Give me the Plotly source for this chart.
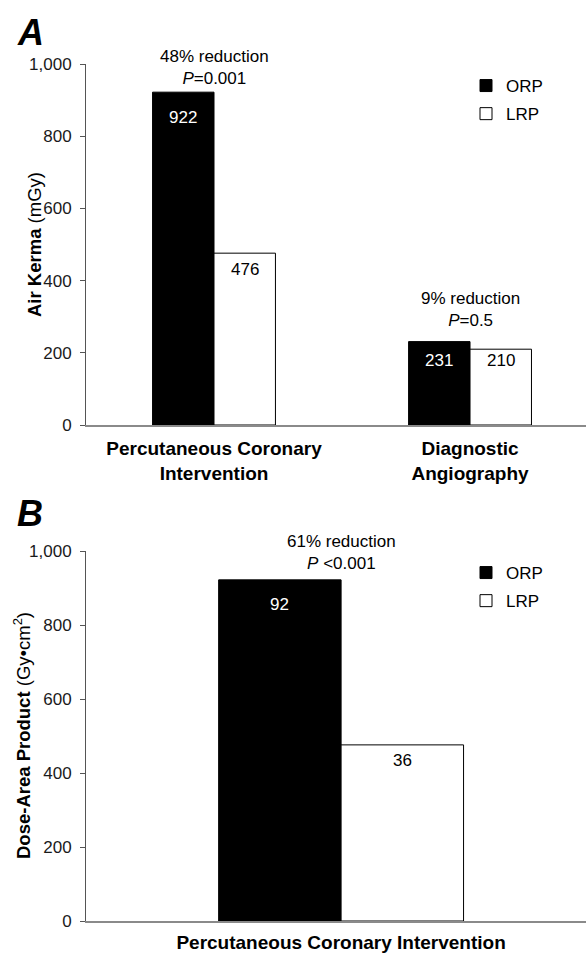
import plotly.graph_objects as go

# ---------------- data ----------------
cats_a = ["Percutaneous Coronary<br>Intervention", "Diagnostic<br>Angiography"]
orp_a = [922, 231]
lrp_a = [476, 210]
orp_a_labels = ["922", "231"]
lrp_a_labels = ["476", "210"]
notes_a = ["48% reduction", "9% reduction"]
pvals_a = ["=0.001", "=0.5"]

cats_b = ["Percutaneous Coronary Intervention"]
orp_b = [922]          # bar heights as drawn on the axis
lrp_b = [476]
orp_b_labels = ["92"]
lrp_b_labels = ["36"]
notes_b = ["61% reduction"]
pvals_b = [" <0.001"]

y_ticks = [0, 200, 400, 600, 800, 1000]
series_names = ["ORP", "LRP"]

# ---------------- style ----------------
FONT = "Liberation Sans, Arial, sans-serif"
W, H = 586, 953
BARGAP = 0.52
AX_GREY = "#555555"
XLINE = "#8a8a8a"

fig = go.Figure()

def add_panel(xa, ya, cats, orp, lrp, legend):
    fig.add_trace(go.Bar(x=cats, y=orp, name=series_names[0], xaxis=xa, yaxis=ya,
                         marker=dict(color="black", line=dict(color="black", width=1)),
                         legend=legend, legendgroup=legend + "o", hoverinfo="skip"))
    fig.add_trace(go.Bar(x=cats, y=lrp, name=series_names[1], xaxis=xa, yaxis=ya,
                         marker=dict(color="white", line=dict(color="black", width=1)),
                         legend=legend, legendgroup=legend + "l", hoverinfo="skip"))

add_panel("x", "y", cats_a, orp_a, lrp_a, "legend")
add_panel("x2", "y2", cats_b, orp_b, lrp_b, "legend2")

yA = [1 - 425 / H, 1 - 64 / H]
yB = [1 - 921 / H, 1 - 551 / H]
xdom = [86 / W, 1]

common_y = dict(range=[0, 1000], tickvals=y_ticks, tickformat=",", ticks="outside",
                ticklen=5, tickcolor=AX_GREY, tickwidth=1, showline=True,
                linecolor=AX_GREY, linewidth=1, showgrid=False, zeroline=False,
                tickfont=dict(family=FONT, size=17, color="#1a1a1a"),
                ticklabelstandoff=5, fixedrange=True)
common_x = dict(type="category", showline=True, linecolor=XLINE, linewidth=2,
                ticks="", showgrid=False, zeroline=False, layer="below traces",
                tickfont=dict(family=FONT, size=19, color="black", weight="bold"),
                fixedrange=True)

leg_common = dict(xanchor="left", yanchor="top", bgcolor="rgba(0,0,0,0)",
                  font=dict(family=FONT, size=17, color="black"),
                  tracegroupgap=3, itemwidth=30)

fig.update_layout(
    width=W, height=H, margin=dict(l=0, r=0, t=0, b=0, autoexpand=False),
    paper_bgcolor="white", plot_bgcolor="white",
    barmode="group", bargap=BARGAP, bargroupgap=0,
    font=dict(family=FONT, color="black"),
    xaxis=dict(domain=xdom, anchor="y", range=[-0.5, 1.453], ticklabelstandoff=5, **common_x),
    yaxis=dict(domain=yA, anchor="x", **common_y),
    xaxis2=dict(domain=xdom, anchor="y2", range=[-0.5, 0.48], ticklabelstandoff=3, **common_x),
    yaxis2=dict(domain=yB, anchor="x2", **common_y),
    legend=dict(x=466 / W, y=1 - 68 / H, **leg_common),
    legend2=dict(x=466 / W, y=1 - 555 / H, **leg_common),
)

ann = []
half = (1 - BARGAP) / 4  # centre offset of each bar within a group (category units)

def bar_labels(xref, yref, orp, lrp, ol, ll, o_shift, l_shift):
    for i in range(len(orp)):
        ann.append(dict(xref=xref, yref=yref, x=i - half, y=orp[i], yshift=o_shift[i],
                        text=ol[i], showarrow=False, yanchor="middle",
                        font=dict(family=FONT, size=17, color="white")))
        ann.append(dict(xref=xref, yref=yref, x=i + half, y=lrp[i], yshift=l_shift[i],
                        text=ll[i], showarrow=False, yanchor="middle",
                        font=dict(family=FONT, size=17, color="black")))

bar_labels("x", "y", orp_a, lrp_a, orp_a_labels, lrp_a_labels, [-25, -19], [-16, -11])
bar_labels("x2", "y2", orp_b, lrp_b, orp_b_labels, lrp_b_labels, [-25], [-16])

def notes(xref, yref, orp, lrp, nt, pv, shifts):
    for i in range(len(orp)):
        ann.append(dict(xref=xref, yref=yref, x=i, y=max(orp[i], lrp[i]), yshift=shifts[i],
                        yanchor="bottom", showarrow=False,
                        text=nt[i] + "<br><i>P</i>" + pv[i],
                        font=dict(family=FONT, size=17, color="black")))

notes("x", "y", orp_a, lrp_a, notes_a, pvals_a, [2, 10])
notes("x2", "y2", orp_b, lrp_b, notes_b, pvals_b, [5])

# panel letters
ann.append(dict(xref="paper", yref="paper", x=15 / W, y=1 - 10 / H, xanchor="left", yanchor="top",
                text="<b><i>A</i></b>", showarrow=False, font=dict(family=FONT, size=36, color="black")))
ann.append(dict(xref="paper", yref="paper", x=15 / W, y=1 - 491 / H, xanchor="left", yanchor="top",
                text="<b><i>B</i></b>", showarrow=False, font=dict(family=FONT, size=36, color="black")))

# y-axis titles
ann.append(dict(xref="paper", yref="paper", x=35 / W, y=1 - 245 / H, textangle=-90,
                xanchor="center", yanchor="middle", showarrow=False,
                text="<b>Air Kerma</b> (mGy)", font=dict(family=FONT, size=18.5, color="black")))
ann.append(dict(xref="paper", yref="paper", x=22 / W, y=1 - 736 / H, textangle=-90,
                xanchor="center", yanchor="middle", showarrow=False,
                text="<b>Dose-Area Product</b> (Gy•cm<sup>2</sup>)", font=dict(family=FONT, size=18.5, color="black")))

fig.update_layout(annotations=ann)

fig.write_html("out.html", config={"displayModeBar": False},
               post_script="document.body.style.margin='0';document.documentElement.style.overflow='hidden';")
